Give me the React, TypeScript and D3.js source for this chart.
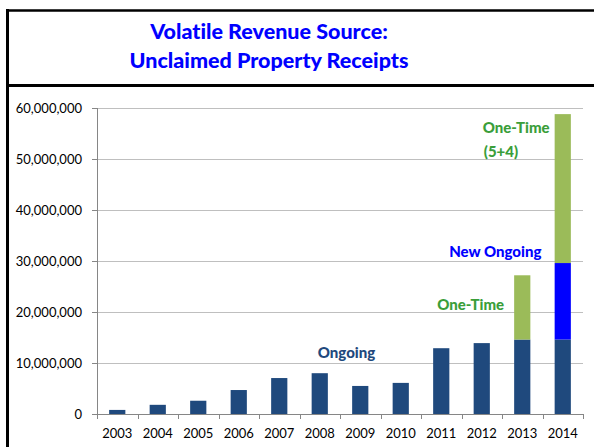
import React, { useRef, useEffect } from 'react';
import * as d3 from 'd3';

// Unclaimed property receipts by fiscal year (dollars)
const YEARS = ['2003', '2004', '2005', '2006', '2007', '2008', '2009', '2010', '2011', '2012', '2013', '2014'];
const ONGOING = [800000, 1800000, 2600000, 4700000, 7050000, 8000000, 5500000, 6100000, 12900000, 13900000, 14600000, 14600000];
const NEW_ONGOING = [0, 0, 0, 0, 0, 0, 0, 0, 0, 0, 0, 15000000];
const ONE_TIME = [0, 0, 0, 0, 0, 0, 0, 0, 0, 0, 12600000, 29200000];
const Y_TICKS = [0, 10000000, 20000000, 30000000, 40000000, 50000000, 60000000];

const KEYS = ['ongoing', 'newOngoing', 'oneTime'];
const COLORS: Record<string, string> = {
  ongoing: '#1f497d',
  newOngoing: '#0000ff',
  oneTime: '#9bbb59',
};

const W = 594;
const H = 447;
const FONT = 'Lato, "Open Sans", sans-serif';

const App: React.FC = () => {
  const ref = useRef<SVGSVGElement>(null);

  useEffect(() => {
    if (!ref.current) return;
    const root = d3.select(ref.current);
    root.selectAll('*').remove();

    // Slide frame + title band
    root.append('rect').attr('x', 0).attr('y', 0).attr('width', W).attr('height', H).attr('fill', '#fff');
    root.append('line').attr('x1', 7).attr('x2', W).attr('y1', 10.5).attr('y2', 10.5)
      .attr('stroke', '#000').attr('stroke-width', 2.5);
    root.append('line').attr('x1', 7).attr('x2', W).attr('y1', 85.5).attr('y2', 85.5)
      .attr('stroke', '#000').attr('stroke-width', 3);
    root.append('line').attr('x1', 7.5).attr('x2', 7.5).attr('y1', 9).attr('y2', H)
      .attr('stroke', '#000').attr('stroke-width', 3);

    const title = root.append('text')
      .attr('text-anchor', 'middle')
      .style('font-family', FONT)
      .style('font-weight', 900)
      .style('font-size', '21.5px')
      .style('font-variant-ligatures', 'none')
      .attr('fill', '#0000ff');
    title.append('tspan').attr('x', 269).attr('y', 39).text('Volatile Revenue Source:');
    title.append('tspan').attr('x', 269).attr('y', 68).text('Unclaimed Property Receipts');

    const margin = { top: 108, left: 97, right: 11, bottom: 33 };
    const width = W - margin.left - margin.right;
    const height = H - margin.top - margin.bottom;
    const g = root.append('g').attr('transform', `translate(${margin.left},${margin.top})`);

    const data = YEARS.map((year, i) => ({
      year,
      ongoing: ONGOING[i],
      newOngoing: NEW_ONGOING[i],
      oneTime: ONE_TIME[i],
    }));
    const series = d3.stack<any>().keys(KEYS)(data);

    const x = d3.scaleBand().domain(YEARS).range([0, width]).paddingInner(0.6).paddingOuter(0.3);
    const y = d3.scaleLinear().domain([0, 60000000]).range([height, 0]);

    // Gridlines
    g.append('g')
      .selectAll('line')
      .data(Y_TICKS.slice(1))
      .enter()
      .append('line')
      .attr('x1', 0)
      .attr('x2', width)
      .attr('y1', (d) => Math.round(y(d)) + 0.5)
      .attr('y2', (d) => Math.round(y(d)) + 0.5)
      .attr('stroke', '#bfbfbf');

    // Bars
    g.selectAll('.layer')
      .data(series)
      .enter()
      .append('g')
      .attr('fill', (d) => COLORS[d.key])
      .selectAll('rect')
      .data((d) => d.filter((p) => p[1] > p[0]))
      .enter()
      .append('rect')
      .attr('x', (d) => x(d.data.year) as number)
      .attr('width', x.bandwidth())
      .attr('y', (d) => y(d[1]))
      .attr('height', (d) => y(d[0]) - y(d[1]));

    // Y axis
    const yAxis = g.append('g').call(
      d3.axisLeft(y).tickValues(Y_TICKS).tickSize(5).tickPadding(10)
        .tickFormat((d) => d3.format(',')(d as number))
    );
    yAxis.select('.domain').attr('stroke', '#868686').attr('d', `M0.5,${height}V0`);
    yAxis.selectAll('.tick line').attr('stroke', '#868686');
    yAxis.selectAll('text')
      .style('font-family', FONT)
      .style('font-size', '13px')
      .attr('fill', '#000');

    // X axis: ticks between categories
    const xAxis = g.append('g').attr('transform', `translate(0,${height})`);
    xAxis.append('line').attr('x1', 0).attr('x2', width).attr('y1', 0.5).attr('y2', 0.5).attr('stroke', '#868686');
    const step = x.step();
    xAxis.selectAll('.xt')
      .data(d3.range(YEARS.length + 1))
      .enter()
      .append('line')
      .attr('x1', (i) => Math.round(i * step) + 0.5)
      .attr('x2', (i) => Math.round(i * step) + 0.5)
      .attr('y1', 0)
      .attr('y2', 5)
      .attr('stroke', '#868686');
    xAxis.selectAll('.xl')
      .data(YEARS)
      .enter()
      .append('text')
      .attr('x', (d) => (x(d) as number) + x.bandwidth() / 2)
      .attr('y', 24)
      .attr('text-anchor', 'middle')
      .style('font-family', FONT)
      .style('font-size', '13px')
      .attr('fill', '#000')
      .text((d) => d);

    // Annotations
    const label = (text: string, xPos: number, yPos: number, color: string) =>
      g.append('text')
        .attr('x', xPos)
        .attr('y', yPos)
        .style('font-family', FONT)
        .style('font-weight', 900)
        .style('font-size', '15px')
        .attr('fill', color)
        .text(text);

    const cx = (yr: string) => (x(yr) as number) + x.bandwidth() / 2;
    label('Ongoing', cx('2008') - 2, y(10000000) - 5, '#1f497d');
    label('One-Time', cx('2011') - 4, y(20000000) - 2, '#3a9e3a');
    label('New Ongoing', cx('2011') + 8, y(30000000) - 4, '#0000ff');
    label('One-Time', cx('2012') + 1, y(55000000) - 1, '#3a9e3a');
    label('(5+4)', cx('2012') + 2, y(50000000) - 2, '#3a9e3a');
  }, []);

  return (
    <>
      <style>{'body{margin:0}'}</style>
      <svg ref={ref} width={W} height={H} style={{ display: 'block' }} />
    </>
  );
};

export default App;
